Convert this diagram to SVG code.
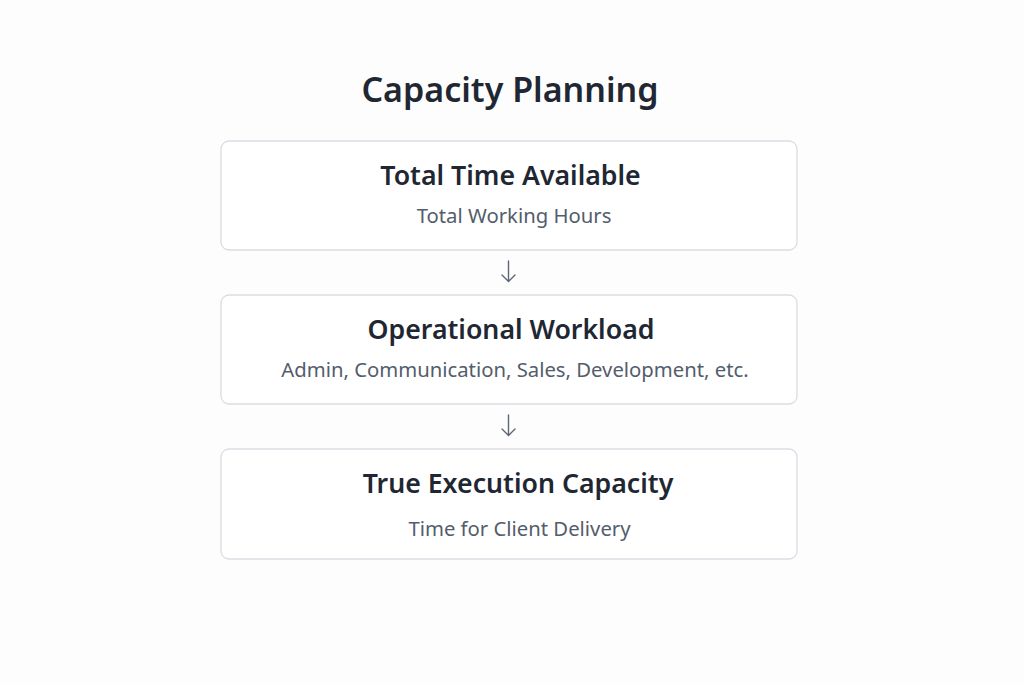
<svg xmlns="http://www.w3.org/2000/svg" width="1024" height="683" viewBox="0 0 1024 683">
<style>
.bg{fill:#fdfdfd}
.box{fill:#ffffff;stroke:#d9dde3;stroke-width:1.3}
.title{font-family:"Noto Sans","Open Sans",sans-serif;font-weight:600;font-size:34px;fill:#1f2733;text-anchor:middle}
.h{font-family:"Noto Sans","Open Sans",sans-serif;font-weight:600;font-size:26.7px;fill:#1f2733;text-anchor:middle}
.s{font-family:"Noto Sans","Open Sans",sans-serif;font-weight:400;font-size:20.3px;fill:#535d6c;text-anchor:middle}
.arr{fill:none;stroke:#5d6674;stroke-width:1.4;stroke-linecap:round;stroke-linejoin:round}
</style>
<rect class="bg" x="0" y="0" width="1024" height="683"/>
<text class="title" x="510" y="102">Capacity Planning</text>
<g id="node-total">
<rect class="box" x="221" y="141" width="576" height="109" rx="8"/>
<text class="h" x="510.5" y="185">Total Time Available</text>
<text class="s" x="514" y="223">Total Working Hours</text>
</g>
<g id="node-operational">
<rect class="box" x="221" y="295" width="576" height="109" rx="8"/>
<text class="h" x="511" y="339">Operational Workload</text>
<text class="s" x="515" y="377">Admin, Communication, Sales, Development, etc.</text>
</g>
<g id="node-true">
<rect class="box" x="221" y="449" width="576" height="110" rx="8"/>
<text class="h" x="518" y="493">True Execution Capacity</text>
<text class="s" x="519.5" y="536">Time for Client Delivery</text>
</g>
<g id="connectors">
<path class="arr" d="M508.5 261 V281 M502 275 L508.5 281.5 L515 275"/>
<path class="arr" d="M508.5 415 V435 M502 429 L508.5 435.5 L515 429"/>
</g>
</svg>
